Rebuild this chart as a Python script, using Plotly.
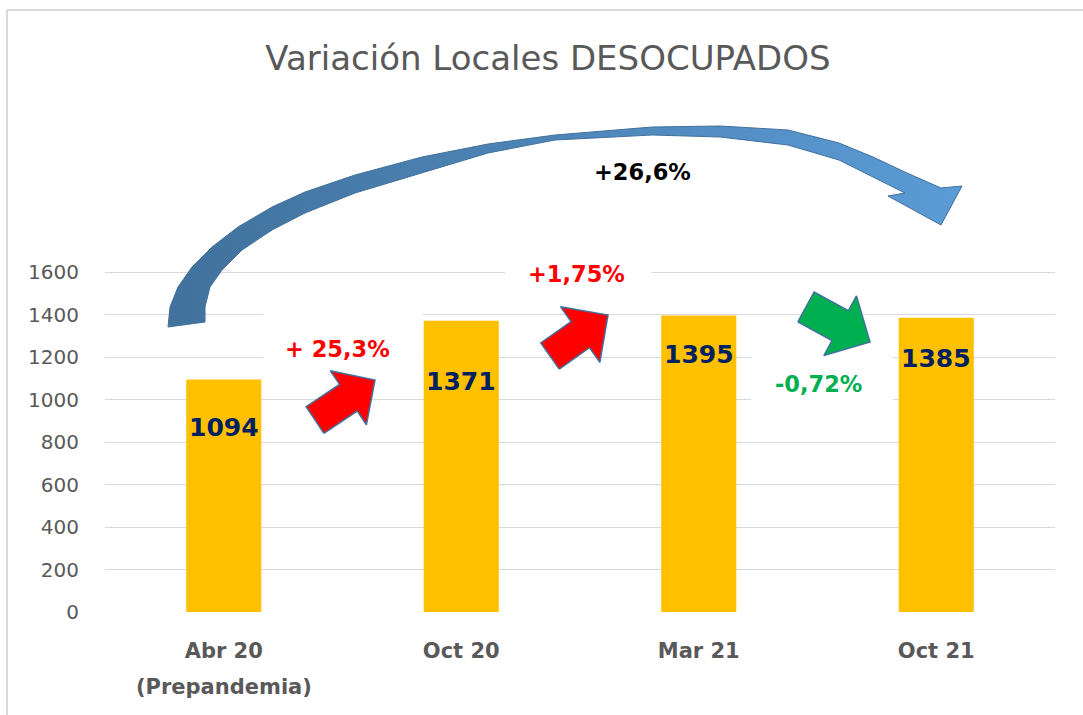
import math
import plotly.graph_objects as go

# data
categories = ["Abr 20", "Oct 20", "Mar 21", "Oct 21"]
sub_labels = ["(Prepandemia)", "", "", ""]
values = [1094, 1371, 1395, 1385]
step_changes = ["+ 25,3%", "+1,75%", "-0,72%"]
total_change = "+26,6%"
y_ticks = [0, 200, 400, 600, 800, 1000, 1200, 1400, 1600]

# how far below the bar top each value label sits (axis units)
label_drop = [228, 288, 185, 194]

FONT = "DejaVu Sans"
GREY = "#595959"
W, H = 1083, 715
L, R, T, B = 105, 28, 100, 103
PLOT_W = W - L - R
PLOT_H = H - T - B
UNIT = PLOT_W / len(categories)
Y_PER_PX = 1600 / 340
YMAX = PLOT_H * Y_PER_PX


# screen pixel -> axis coords (decorations were measured in pixels)
def ax_x(px):
    return (px - L) / UNIT - 0.5


def ax_y(py):
    return (H - B - py) * Y_PER_PX


def pap_x(px):
    return (px - L) / PLOT_W


def pap_y(py):
    return (H - B - py) / PLOT_H


def block_arrow(tail, tip, shaft, head_w, head_len):
    (x0, y0), (x1, y1) = tail, tip
    n = math.hypot(x1 - x0, y1 - y0)
    ux, uy = (x1 - x0) / n, (y1 - y0) / n
    nx, ny = -uy, ux
    bx, by = x1 - ux * head_len, y1 - uy * head_len
    pts = [
        (x0 + nx * shaft / 2, y0 + ny * shaft / 2),
        (bx + nx * shaft / 2, by + ny * shaft / 2),
        (bx + nx * head_w / 2, by + ny * head_w / 2),
        (x1, y1),
        (bx - nx * head_w / 2, by - ny * head_w / 2),
        (bx - nx * shaft / 2, by - ny * shaft / 2),
        (x0 - nx * shaft / 2, y0 - ny * shaft / 2),
    ]
    pts.append(pts[0])
    return pts


def poly_trace(pts, **kw):
    return go.Scatter(
        x=[ax_x(p[0]) for p in pts], y=[ax_y(p[1]) for p in pts],
        mode="lines", fill="toself", hoverinfo="skip", showlegend=False, **kw
    )


fig = go.Figure()

# white text boxes that hide the gridlines behind the % labels
for (x0, y0, x1, y1) in [(263, 300, 423, 380), (505, 252, 651, 296), (751, 340, 893, 415)]:
    box = [(x0, y0), (x1, y0), (x1, y1), (x0, y1), (x0, y0)]
    fig.add_trace(poly_trace(box, fillcolor="white", line=dict(width=0, color="white")))

fig.add_trace(go.Bar(
    x=list(range(len(categories))), y=values, width=0.316,
    marker=dict(color="#FFC000", line=dict(width=0)),
    hoverinfo="skip", showlegend=False,
))

# big curved arrow
upper = [(168, 327), (170, 307), (178, 287), (192, 267), (212, 247), (238, 227), (272, 207),
         (305, 192), (355, 175), (422, 157), (488, 144), (555, 135), (652, 127), (720, 126),
         (788, 130), (839, 143), (873, 157), (907, 173), (941, 188)]
head = [(962, 186), (941, 225), (888, 196), (905, 193)]
inner = [(873, 177), (839, 160), (788, 145), (720, 137), (652, 135), (584, 139), (555, 140),
         (488, 153), (422, 173), (355, 193), (305, 213), (272, 230), (242, 250), (222, 270),
         (210, 287), (205, 307), (205, 322)]
curve = upper + head + inner + [upper[0]]
fig.add_trace(poly_trace(
    curve, fillcolor="#4F84BD",
    fillgradient=dict(type="horizontal", colorscale=[[0, "#41719C"], [1, "#5B9BD5"]]),
    line=dict(color="#41719C", width=1),
))

# step arrows
fig.add_trace(poly_trace(block_arrow((315, 420), (375, 380), 32, 65, 32),
                         fillcolor="#FF0000", line=dict(color="#41719C", width=1.5)))
fig.add_trace(poly_trace(block_arrow((550, 356), (608, 315), 32, 68, 34),
                         fillcolor="#FF0000", line=dict(color="#41719C", width=1.5)))
fig.add_trace(poly_trace(block_arrow((806, 307), (870, 342), 34, 68, 34),
                         fillcolor="#00B050", line=dict(color="#41719C", width=1.5)))

annotations = []
for i, v in enumerate(values):
    annotations.append(dict(
        x=i, y=v - label_drop[i], text=str(v), showarrow=False,
        font=dict(family=FONT, size=25, color="#002060", weight="bold"),
    ))

for i, s in enumerate(sub_labels):
    if s:
        annotations.append(dict(
            x=i, y=pap_y(687), yref="paper", yanchor="middle", text=s, showarrow=False,
            font=dict(family=FONT, size=21, color=GREY, weight="bold"),
        ))

pct_font = dict(family=FONT, size=22.5, weight="bold")
pct_pos = [(337, 349), (576, 274), (818, 384)]
pct_col = ["#FF0000", "#FF0000", "#00B050"]
for txt, (px, py), c in zip(step_changes, pct_pos, pct_col):
    annotations.append(dict(x=ax_x(px), y=ax_y(py), text=txt, showarrow=False,
                            font=dict(pct_font, color=c)))
annotations.append(dict(x=ax_x(642), y=ax_y(172), text=total_change, showarrow=False,
                        font=dict(pct_font, color="#000000")))

fig.update_layout(
    width=W, height=H,
    margin=dict(l=L, r=R, t=T, b=B),
    paper_bgcolor="white", plot_bgcolor="white",
    title=dict(text="Variación Locales DESOCUPADOS", x=548 / W, xanchor="center",
               y=1 - 58 / H, yanchor="middle",
               font=dict(family=FONT, size=34, color=GREY)),
    annotations=annotations,
    shapes=[
        dict(type="line", xref="paper", yref="paper", x0=pap_x(7), x1=pap_x(7),
             y0=pap_y(10), y1=pap_y(730), line=dict(color="#D9D9D9", width=2)),
        dict(type="line", xref="paper", yref="paper", x0=pap_x(7), x1=pap_x(1100),
             y0=pap_y(10), y1=pap_y(10), line=dict(color="#D9D9D9", width=2)),
    ],
)

fig.update_xaxes(
    range=[-0.5, 3.5], tickvals=list(range(len(categories))), ticktext=categories,
    showgrid=False, zeroline=False, showline=False, ticks="",
    tickfont=dict(family=FONT, size=21, color=GREY, weight="bold"),
    ticklabelstandoff=24, fixedrange=True,
)
fig.update_yaxes(
    range=[0, YMAX], tickvals=y_ticks, showgrid=True, gridcolor="#D9D9D9", gridwidth=1.3,
    zeroline=False, showline=False, ticks="",
    tickfont=dict(family=FONT, size=20, color=GREY),
    ticklabelstandoff=25, fixedrange=True,
)

# drop the default page margin so the figure sits at the window origin
fig.write_html("out.html", config={"displayModeBar": False},
               post_script="document.body.style.margin='0';")
